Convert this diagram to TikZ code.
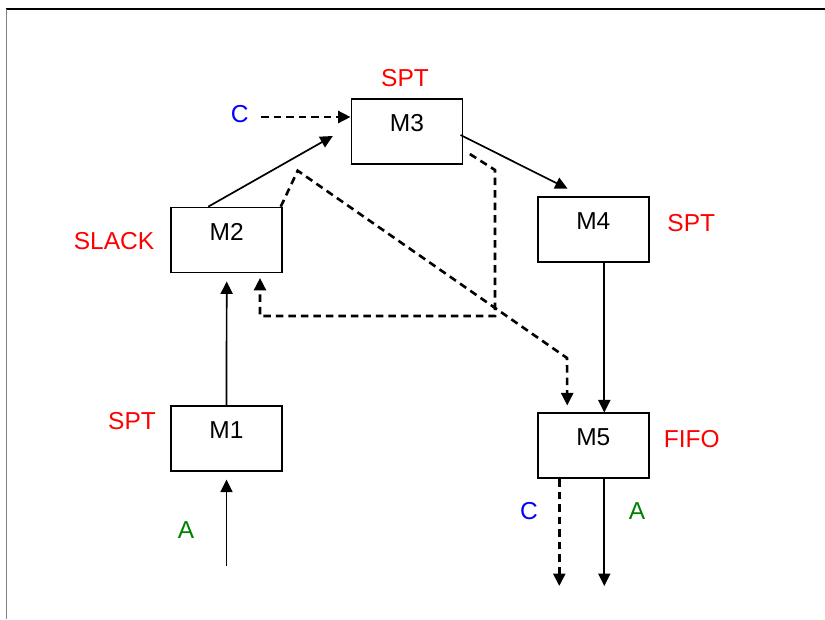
\documentclass[tikz,border=0pt]{standalone}
\usepackage{fontspec}
\setmainfont{Liberation Sans}
\usetikzlibrary{arrows.meta,calc}
\definecolor{lblred}{RGB}{255,0,0}
\definecolor{lblblue}{RGB}{0,0,255}
\definecolor{lblgreen}{RGB}{0,128,0}
\begin{document}
\begin{tikzpicture}[x=1pt,y=-1pt,
  font=\fontsize{24.5}{28}\selectfont,
  machine/.style={draw,line width=1.7pt,rectangle,inner sep=0pt,
    minimum width=111pt,text height=32.5pt,text depth=32.5pt},
  rule/.style={font=\fontsize{24.5}{28}\selectfont,text=lblred,anchor=base,inner sep=0pt},
  job/.style={font=\fontsize{24.5}{28}\selectfont,anchor=base,inner sep=0pt},
  flow/.style={line width=1.7pt,-{Triangle[length=12.5pt,width=12pt]}},
  flowc/.style={line width=2.6pt,dash pattern=on 7.5pt off 5pt,
    -{Triangle[length=12.5pt,width=12pt]}},
  frameline/.style={line width=1.7pt}]
\useasboundingbox (0,0) rectangle (825,619);
% page frame
\draw[frameline] (6,9.2) -- (825,9.2);
\draw[gray,line width=0.9pt] (6,9.2) -- (6,619);

% machines
\node[machine] (M3) at (406.9,131.7) {M3};
\node[machine] (M2) at (226.7,240) {M2};
\node[machine] (M1) at (226.5,438.7) {M1};
\node[machine] (M4) at (593.3,229.5) {M4};
\node[machine] (M5) at (593.3,445.8) {M5};

% dispatching rules
\node[rule] (r3) at (405,86) {SPT};
\node[rule] (r2) at (114,249) {SLACK};
\node[rule] (r4) at (691.3,231.7) {SPT};
\node[rule] (r1) at (132,429.3) {SPT};
\node[rule] (r5) at (691.7,447.3) {FIFO};

% job labels
\node[job,text=lblblue] (Cin) at (239.7,122.3) {C};
\node[job,text=lblgreen] (Ain) at (186,538.3) {A};
\node[job,text=lblblue] (Cout) at (529,519) {C};
\node[job,text=lblgreen] (Aout) at (637,519) {A};

% free ends
\coordinate (a0) at (226.5,565.7);
\coordinate (c0) at (261,117);
\coordinate (c5) at (559.3,586);
\coordinate (a5) at (604.3,586);

% route of job A
\draw[flow,shorten >=7.5pt] (a0) -- (M1.south);
\draw[flow,shorten >=8pt] (M1.north) -- (M2.south);
\draw[flow,shorten >=20.4pt] ($(M2.north)+(-18.4,0)$) -- ($(M3.west)+(0,-5.8)$);
\draw[flow,shorten >=16.5pt] ($(M3.east)+(-2.7,3.3)$) -- ($(M4.north)+(-10.9,0)$);
\draw[flow] ($(M4.south)+(11,0)$) -- ($(M5.north)+(11,0)$);
\draw[flow] ($(M5.south)+(11,0)$) -- (a5);

% route of job C
\draw[flowc] (c0) -- (c0 -| M3.west);
\draw[flowc,shorten >=4.6pt] ($(M3.south east)+(6.6,-11)$) -- (495,170) -- (495,316)
  -- (260,316) -- ($(M2.south)+(33.3,0)$);
\draw[flowc,shorten >=7pt] ($(M2.north east)+(-2.3,0)$) -- (297.7,170.7) -- (567,358)
  -- ($(M5.north)+(-26,0)$);
\draw[flowc] ($(M5.south)+(-34,0)$) -- (c5);
\end{tikzpicture}
\end{document}
